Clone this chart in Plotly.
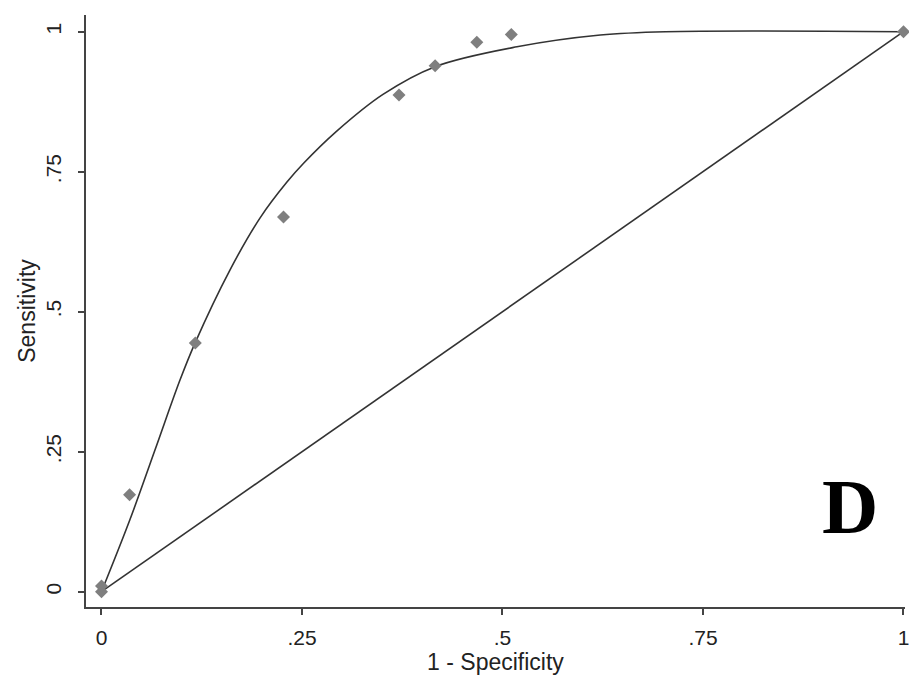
import plotly.graph_objects as go

# Observed operating points (1 - specificity, sensitivity)
obs_fpr = [0.0, 0.0, 0.035, 0.117, 0.227, 0.371, 0.416, 0.468, 0.511, 1.0]
obs_tpr = [0.0, 0.01, 0.173, 0.444, 0.669, 0.887, 0.939, 0.981, 0.995, 1.0]

# Fitted smooth ROC curve
fit_fpr = [0.0, 0.0353, 0.0667, 0.0979, 0.1166, 0.160, 0.198, 0.231, 0.252,
           0.293, 0.351, 0.416, 0.518, 0.622, 0.703, 1.0]
fit_tpr = [0.0, 0.128, 0.253, 0.378, 0.444, 0.574, 0.668, 0.731, 0.765,
           0.822, 0.888, 0.9375, 0.973, 0.994, 1.0, 1.0]

# Chance line
diag = [0.0, 1.0]

tick_vals = [0, 0.25, 0.5, 0.75, 1]
tick_text = ["0", ".25", ".5", ".75", "1"]

fig = go.Figure()
fig.add_trace(go.Scatter(x=fit_fpr, y=fit_tpr, mode="lines",
                         line=dict(color="#333333", width=1.6, shape="spline", smoothing=1.0),
                         hoverinfo="skip"))
fig.add_trace(go.Scatter(x=diag, y=diag, mode="lines",
                         line=dict(color="#333333", width=1.6), hoverinfo="skip"))
fig.add_trace(go.Scatter(x=obs_fpr, y=obs_tpr, mode="markers", cliponaxis=False,
                         marker=dict(symbol="diamond", size=10, color="#7f7f7f")))

# Panel letter
fig.add_annotation(x=(850 - 86) / 819, y=(607 - 506) / 592, xref="paper", yref="paper",
                   text="<b>D</b>", showarrow=False, xanchor="center", yanchor="middle",
                   font=dict(family="Liberation Serif", size=78, color="black"))

tick_font = dict(family="Liberation Sans", size=21, color="#222222")
title_font = dict(family="Liberation Sans", size=23, color="#222222")
fig.update_layout(
    width=909, height=683,
    margin=dict(l=86, r=4, t=15, b=76),
    plot_bgcolor="white", paper_bgcolor="white",
    showlegend=False,
    xaxis=dict(range=[-0.0193, 1.0019], tickvals=tick_vals, ticktext=tick_text,
               showgrid=False, zeroline=False, showline=True, linecolor="#444444",
               linewidth=2, ticks="outside", ticklen=6, tickwidth=1.5, tickcolor="#444444",
               tickfont=tick_font, ticklabelstandoff=5, ticklabeloverflow="allow",
               automargin=False,
               title=dict(text="1 - Specificity", font=title_font, standoff=0)),
    yaxis=dict(range=[-0.0273, 1.0298], tickvals=tick_vals, ticktext=tick_text,
               showgrid=False, zeroline=False, showline=True, linecolor="#444444",
               linewidth=2, ticks="outside", ticklen=6, tickwidth=1.5, tickcolor="#444444",
               tickangle=-90, tickfont=tick_font, ticklabelstandoff=9,
               ticklabeloverflow="allow", automargin=False,
               title=dict(text="Sensitivity", font=title_font, standoff=0)),
)

fig.write_html("out.html")
